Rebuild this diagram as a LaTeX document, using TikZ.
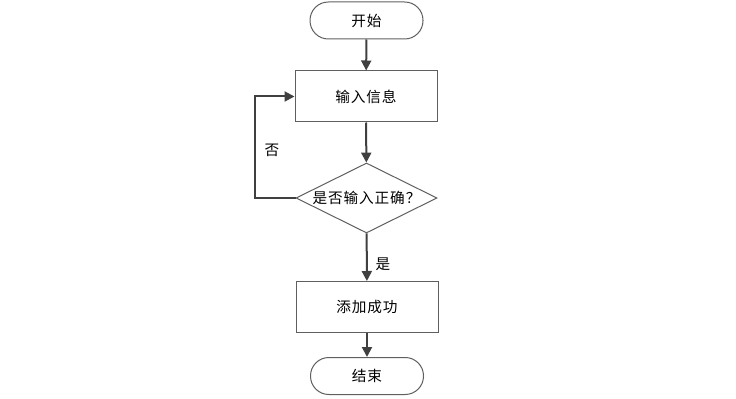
\documentclass[tikz,border=0pt]{standalone}
\usepackage{fontspec}
\usepackage{tikz}
\usetikzlibrary{arrows.meta, positioning, shapes.geometric}
\newfontfamily\cjk{Noto Sans CJK SC}[LetterSpace=6]
\definecolor{linegray}{HTML}{5F5F5F}
\definecolor{arrowgray}{HTML}{404040}
\tikzset{
  terminal/.style={draw=linegray, line width=0.03cm, rounded corners=0.55cm, minimum width=3.39cm, minimum height=1.11cm},
  procbox/.style={draw=linegray, line width=0.03cm, minimum width=4.26cm, minimum height=1.53cm},
  decision/.style={diamond, aspect=2.01, draw=linegray, line width=0.03cm, inner sep=0pt, minimum width=4.23cm, minimum height=2.1cm},
  flow/.style={draw=arrowgray, line width=0.06cm, -{Triangle[length=0.3cm, width=0.3cm]}}
}

\begin{document}
\begin{tikzpicture}[x=0.03cm, y=-0.03cm, font=\cjk\fontsize{12.5}{15}\selectfont]
  \useasboundingbox (0,0) rectangle (736,399);

  % 开始
  \node[terminal] (start) at (366.5,20.5) {开始};

  % 输入信息
  \node[procbox] (info) at (366,96.5) {输入信息};

  % 判断
  \node[decision] (check) at (366.5,198) {是否输入正确？};

  % 添加成功
  \node[procbox] (ok) at (367,307) {添加成功};

  % 结束
  \node[terminal] (finish) at (367,376) {结束};

  % 连线
  \draw[flow] (start) -- (info);
  \draw[flow] (info) -- (check);
  \draw[flow] (check) -- (ok);
  \draw[flow] (ok) -- (finish);
  \draw[flow] (check.west) -- ++(-41,0) |- (info.west);

  \node (no) at (272,150) {否};
  \node (yes) at (383,264) {是};
\end{tikzpicture}
\end{document}
